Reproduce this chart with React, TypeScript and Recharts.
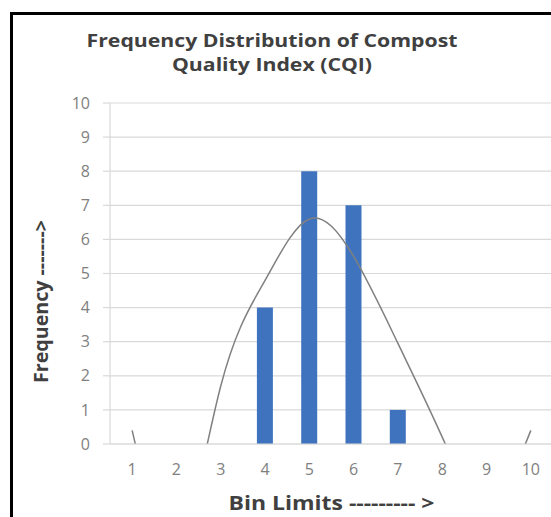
import React from 'react';
import { ComposedChart, Bar, Line, XAxis, YAxis, CartesianGrid, Label } from 'recharts';

// values
const binLimits = ['1', '2', '3', '4', '5', '6', '7', '8', '9', '10'];
const frequency = [0, 0, 0, 4, 8, 7, 1, 0, 0, 0];
// fitted curve, read at each bin (goes below 0 where it is clipped away)
const fittedCurve = [0.4, -3, 1.7, 4.8, 6.6, 5.5, 2.95, 0.2, -1.8, 0.4];
const yTicks = [0, 1, 2, 3, 4, 5, 6, 7, 8, 9, 10];

const data = binLimits.map((bin, i) => ({
  bin,
  frequency: frequency[i],
  curve: fittedCurve[i],
}));

const FONT = '"Open Sans", Lato, sans-serif';
const GRID = '#d9d9d9';

export default function App() {
  return (
    <div
      style={{
        position: 'absolute',
        left: 0,
        top: 0,
        width: 551,
        height: 517,
        overflow: 'hidden',
        background: '#fff',
        fontFamily: FONT,
      }}
    >
      {/* black frame, only top and left edges show */}
      <div
        style={{
          position: 'absolute',
          left: 10,
          top: 12,
          width: 600,
          height: 600,
          borderTop: '3px solid #000',
          borderLeft: '3px solid #000',
        }}
      />
      <div
        style={{
          position: 'absolute',
          left: 0,
          top: 27.5,
          width: 544,
          textAlign: 'center',
          fontWeight: 700,
          fontSize: 18,
          lineHeight: '24px',
          color: '#404040',
          transform: 'scaleX(1.18)',
          transformOrigin: '272px 0',
        }}
      >
        Frequency Distribution of Compost
        <br />
        Quality Index (CQI)
      </div>

      <div style={{ position: 'absolute', left: 0, top: 0 }}>
        <ComposedChart
          width={570}
          height={517}
          data={data}
          margin={{ top: 103, right: 17, bottom: 0, left: 0 }}
          style={{ fontFamily: FONT }}
        >
          <CartesianGrid vertical={false} stroke={GRID} strokeWidth={1.2} />
          <XAxis
            dataKey="bin"
            height={73}
            tickLine={false}
            tickSize={0}
            tickMargin={20}
            axisLine={{ stroke: GRID, strokeWidth: 1.2 }}
            tick={{ fill: '#808080', fontSize: 16, fontFamily: FONT }}
          >
            <Label
              content={({ viewBox }: any) => (
                <text
                  x={viewBox.x + viewBox.width / 2}
                  y={viewBox.y + 58}
                  textAnchor="middle"
                  dominantBaseline="central"
                  fontSize={20}
                  fontWeight={700}
                  fill="#404040"
                  fontFamily={FONT}
                  textLength={206}
                  lengthAdjust="spacingAndGlyphs"
                >
                  Bin Limits --------- &gt;
                </text>
              )}
            />
          </XAxis>
          <YAxis
            width={110}
            domain={[0, 10]}
            ticks={yTicks}
            allowDataOverflow
            interval={0}
            tickSize={7}
            tickMargin={13}
            tickLine={{ stroke: GRID, strokeWidth: 1.2 }}
            axisLine={{ stroke: GRID, strokeWidth: 1.2 }}
            tick={{ fill: '#808080', fontSize: 16, fontFamily: FONT }}
          >
            <Label
              content={({ viewBox }: any) => {
                const cx = viewBox.x + 41;
                const cy = viewBox.y + viewBox.height / 2 + 28;
                return (
                  <text
                    x={cx}
                    y={cy}
                    transform={`rotate(-90 ${cx} ${cy})`}
                    textAnchor="middle"
                    dominantBaseline="central"
                    fontSize={19}
                    fontWeight={700}
                    fill="#404040"
                    fontFamily={FONT}
                    textLength={163}
                    lengthAdjust="spacingAndGlyphs"
                  >
                    Frequency -------&gt;
                  </text>
                );
              }}
            />
          </YAxis>
          <Bar dataKey="frequency" fill="#3f73be" barSize={16} isAnimationActive={false} />
          <Line
            type="natural"
            dataKey="curve"
            stroke="#808080"
            strokeWidth={1.5}
            dot={false}
            activeDot={false}
            isAnimationActive={false}
          />
        </ComposedChart>
      </div>
    </div>
  );
}
